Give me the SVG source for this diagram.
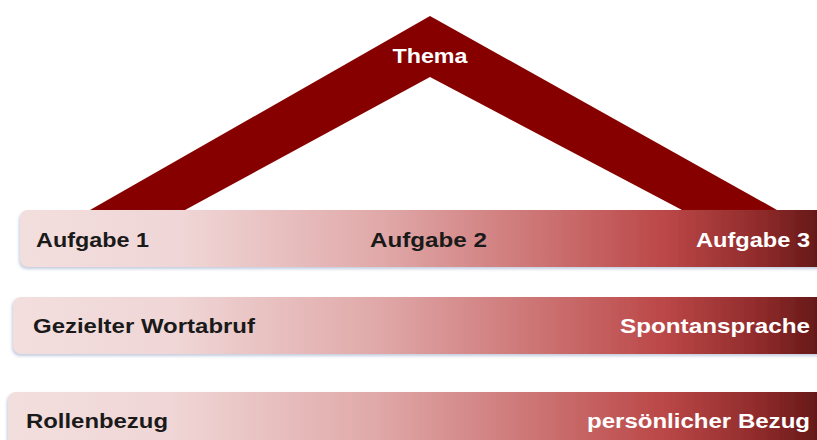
<svg xmlns="http://www.w3.org/2000/svg" width="817" height="440" viewBox="0 0 817 440">
<defs>
<linearGradient id="bar" x1="0" y1="0" x2="1" y2="0">
<stop offset="0" stop-color="#f3dede"/>
<stop offset="0.2" stop-color="#f0d6d6"/>
<stop offset="0.45" stop-color="#e0a8a8"/>
<stop offset="0.65" stop-color="#cc7272"/>
<stop offset="0.8" stop-color="#bb4747"/>
<stop offset="0.92" stop-color="#8e2a2a"/>
<stop offset="1" stop-color="#5e1515"/>
</linearGradient>
<filter id="sh" x="-5%" y="-20%" width="110%" height="150%">
<feDropShadow dx="-1" dy="2" stdDeviation="1.5" flood-color="#9aa8c8" flood-opacity="0.6"/>
</filter>
<style>
.b{fill:url(#bar);filter:url(#sh)}
.t{font-family:"Liberation Sans",Arial,sans-serif;font-weight:bold;font-size:21px}
.d{fill:#1a1a1a}
.w{fill:#ffffff}
</style>
</defs>
<g id="roof">
<polygon points="430,16 777,210 682,210 430,77 185,210 90,210" fill="#860000"/>
<text class="t w" x="430" y="63" text-anchor="middle" textLength="75" lengthAdjust="spacingAndGlyphs">Thema</text>
</g>
<g id="bar1">
<rect class="b" x="20" y="210" width="808" height="57" rx="8"/>
<text class="t d" x="36" y="247" textLength="113" lengthAdjust="spacingAndGlyphs">Aufgabe 1</text>
<text class="t d" x="370" y="247" textLength="117" lengthAdjust="spacingAndGlyphs">Aufgabe 2</text>
<text class="t w" x="696" y="247" textLength="114" lengthAdjust="spacingAndGlyphs">Aufgabe 3</text>
</g>
<g id="bar2">
<rect class="b" x="13" y="297" width="815" height="57" rx="8"/>
<text class="t d" x="33" y="333" textLength="222" lengthAdjust="spacingAndGlyphs">Gezielter Wortabruf</text>
<text class="t w" x="620" y="333" textLength="190" lengthAdjust="spacingAndGlyphs">Spontansprache</text>
</g>
<g id="bar3">
<rect class="b" x="8" y="392" width="820" height="60" rx="8"/>
<text class="t d" x="26" y="428" textLength="142" lengthAdjust="spacingAndGlyphs">Rollenbezug</text>
<text class="t w" x="587" y="428" textLength="223" lengthAdjust="spacingAndGlyphs">persönlicher Bezug</text>
</g>
<g id="connectors"/>
</svg>
